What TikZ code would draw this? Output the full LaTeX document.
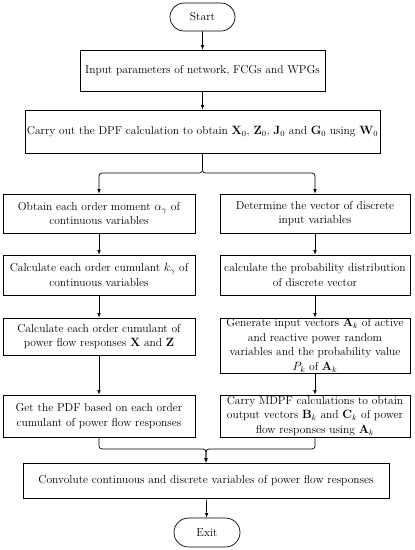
\documentclass[tikz,border=0pt]{standalone}
\usepackage{amsmath, amssymb}
\usepackage{tikz}
\usetikzlibrary{arrows.meta}
\usetikzlibrary{shapes.misc}

\begin{document}
\begin{tikzpicture}[
			x=1pt, y=-1pt,
			every node/.style={font=\fontsize{11.5}{14.5}\selectfont, align=center, inner sep=2pt},
			box/.style={draw, rectangle, line width=0.7pt},
			term/.style={draw, rounded rectangle, line width=0.7pt, minimum width=69pt, minimum height=28pt},
			flow/.style={line width=0.7pt, -{Latex[length=4.5pt,width=3.5pt]}},
			branch/.style={line width=0.7pt, rounded corners=3pt}
		]
		\useasboundingbox (0,0) rectangle (415,550);

		\node[term] (start) at (202.5,17) {Start};
		\node[box, minimum width=245pt, minimum height=41pt] (input) at (202.5,70.5) {Input parameters of network, FCGs and WPGs};
		\node[box, minimum width=341pt, minimum height=43pt] (dpf) at (202.5,131.5) {Carry out the DPF calculation to obtain $\mathbf{X}_0$, $\mathbf{Z}_0$, $\mathbf{J}_0$ and $\mathbf{G}_0$ using $\mathbf{W}_0$};

		% continuous variables
		\node[box, minimum width=192pt, minimum height=39pt] (l1) at (99,213.5) {Obtain each order moment $\alpha_\gamma$ of\\continuous variables};
		\node[box, minimum width=192pt, minimum height=40pt] (l2) at (99,275) {Calculate each order cumulant $k_\gamma$ of\\continuous variables};
		\node[box, minimum width=192pt, minimum height=37pt] (l3) at (99,336.5) {Calculate each order cumulant of\\power flow responses $\mathbf{X}$ and $\mathbf{Z}$};
		\node[box, minimum width=192pt, minimum height=42pt] (l4) at (99,416) {Get the PDF based on each order\\cumulant of power flow responses};

		% discrete variables
		\node[box, minimum width=190pt, minimum height=39pt] (r1) at (315,213.5) {Determine the vector of discrete\\input variables};
		\node[box, minimum width=190pt, minimum height=40pt] (r2) at (315,275) {calculate the probability distribution\\of discrete vector};
		\node[box, minimum width=190pt, minimum height=55pt, inner sep=0pt] (r3) at (315,345.5) {Generate input vectors $\mathbf{A}_k$ of active\\and reactive power random\\variables and the probability value\\$P_k$ of $\mathbf{A}_k$};
		\node[box, minimum width=190pt, minimum height=42pt, inner sep=0pt] (r4) at (315,416) {Carry MDPF calculations to obtain\\output vectors $\mathbf{B}_k$ and $\mathbf{C}_k$ of power\\flow responses using $\mathbf{A}_k$};

		\node[box, minimum width=366pt, minimum height=35pt] (conv) at (206,480.5) {Convolute continuous and discrete variables of power flow responses};
		\node[term, minimum width=70pt, minimum height=29pt] (exit) at (207,532.5) {Exit};

		\coordinate (split) at (202.5,173);
		\coordinate (merge) at (206,449);

		\draw[flow] (start)--(input);
		\draw[flow] (input)--(dpf);
		\draw[flow, branch] (dpf.south)--(split)-|(l1.north);
		\draw[flow, branch] (dpf.south)--(split)-|(r1.north);
		\draw[flow] (l1)--(l2);
		\draw[flow] (l2)--(l3);
		\draw[flow] (l3)--(l4);
		\draw[flow] (r1)--(r2);
		\draw[flow] (r2)--(r3);
		\draw[flow] (r3)--(r4);
		\draw[flow, branch] (l4.south)|-(merge)--(conv.north);
		\draw[flow, branch] (r4.south)|-(merge)--(conv.north);
		\draw[flow] (conv)--(exit);
	\end{tikzpicture}
\end{document}
